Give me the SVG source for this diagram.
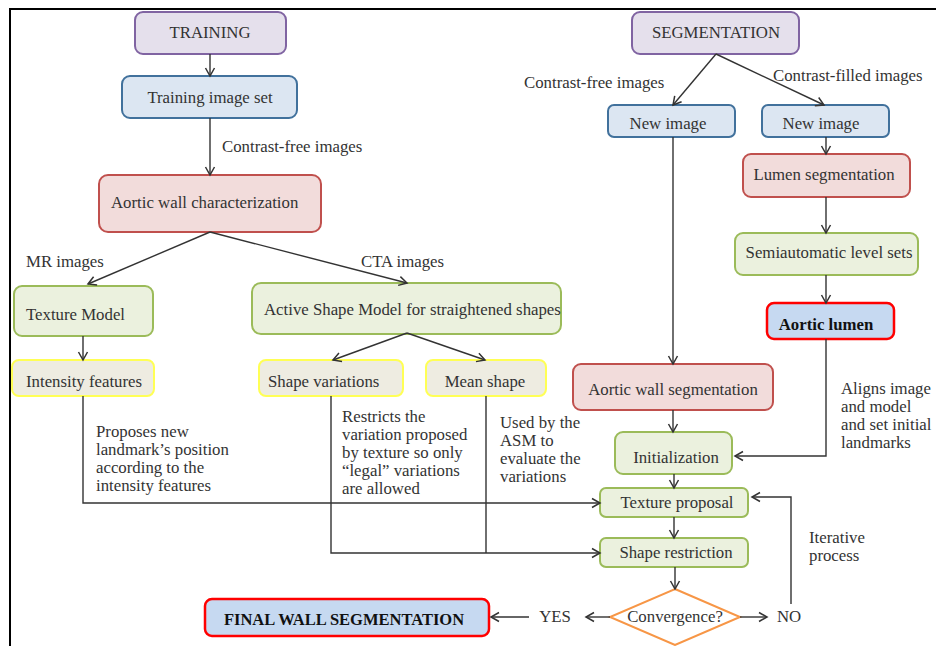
<svg xmlns="http://www.w3.org/2000/svg" width="936" height="646" viewBox="0 0 936 646">
<defs>
<marker id="arr" markerUnits="userSpaceOnUse" markerWidth="12" markerHeight="12" viewBox="0 0 12 12" refX="10" refY="6" orient="auto">
<path d="M2,1.5 L10,6 L2,10.5" fill="none" stroke="#333" stroke-width="1.5"/>
</marker>
<style>
text{font-family:"Liberation Serif","Times New Roman",serif;font-size:16.8px;fill:#333}
.c{text-anchor:middle}
.b{font-weight:bold;fill:#111}
rect{stroke-width:2}
.pu{fill:#E5E0EC;stroke:#8064A2}
.bl{fill:#DCE6F2;stroke:#41719C}
.rd{fill:#F2DCDB;stroke:#C0504D}
.gr{fill:#EBF1DE;stroke:#9BBB59}
.ye{fill:#EEECE1;stroke:#FFFF55}
.fr{fill:#C6D9F1;stroke:#FF0000;stroke-width:2.5}
.cn path,.cn line,.cn polyline{fill:none;stroke:#333;stroke-width:1.4}
.a{marker-end:url(#arr)}
</style>
</defs>
<rect x="10" y="9" width="950" height="660" fill="none" stroke="#000" stroke-width="2"/>

<g id="training"><rect class="pu" x="135" y="12" width="151" height="42" rx="8"/><text class="c" x="210" y="38">TRAINING</text></g>
<g id="training-set"><rect class="bl" x="122" y="76" width="175" height="42" rx="8"/><text class="c" x="210" y="103">Training image set</text></g>
<g id="awc"><rect class="rd" x="99" y="175" width="222" height="57" rx="9"/><text x="111" y="208">Aortic wall characterization</text></g>
<g id="texture-model"><rect class="gr" x="14" y="286" width="139" height="50" rx="8"/><text x="26" y="320">Texture Model</text></g>
<g id="asm"><rect class="gr" x="252" y="283" width="309" height="51" rx="9"/><text x="264" y="315">Active Shape Model for straightened shapes</text></g>
<g id="intensity"><rect class="ye" x="12" y="360" width="142" height="36" rx="7"/><text x="26" y="387">Intensity features</text></g>
<g id="shape-var"><rect class="ye" x="259" y="360" width="144" height="36" rx="7"/><text x="268" y="387">Shape variations</text></g>
<g id="mean-shape"><rect class="ye" x="426" y="360" width="120" height="36" rx="7"/><text class="c" x="485" y="387">Mean shape</text></g>

<g id="segmentation"><rect class="pu" x="632" y="12" width="167" height="42" rx="8"/><text class="c" x="716" y="38">SEGMENTATION</text></g>
<g id="new-image-1"><rect class="bl" x="608" y="105" width="127" height="32" rx="6"/><text class="c" x="668" y="129">New image</text></g>
<g id="new-image-2"><rect class="bl" x="762" y="105" width="127" height="32" rx="6"/><text class="c" x="821" y="129">New image</text></g>
<g id="lumen-seg"><rect class="rd" x="743" y="154" width="167" height="43" rx="8"/><text class="c" x="824" y="180">Lumen segmentation</text></g>
<g id="semi"><rect class="gr" x="735" y="233" width="183" height="42" rx="8"/><text class="c" x="829" y="258">Semiautomatic level sets</text></g>
<g id="aortic-lumen"><rect class="fr" x="767" y="303" width="127" height="36" rx="7"/><text class="c b" x="826" y="330">Aortic lumen</text></g>
<g id="aws"><rect class="rd" x="573" y="364" width="200" height="46" rx="8"/><text class="c" x="673" y="395">Aortic wall segmentation</text></g>
<g id="init"><rect class="gr" x="615" y="432" width="117" height="42" rx="8"/><text class="c" x="676" y="463">Initialization</text></g>
<g id="texture-proposal"><rect class="gr" x="600" y="488" width="148" height="29" rx="6"/><text class="c" x="677" y="508">Texture proposal</text></g>
<g id="shape-restriction"><rect class="gr" x="600" y="538" width="148" height="29" rx="6"/><text class="c" x="676" y="558">Shape restriction</text></g>
<g id="convergence"><path d="M675,589 L740,617 L675,645 L610,617 Z" fill="#fff" stroke="#F79646" stroke-width="2"/><text class="c" x="675" y="622">Convergence?</text></g>
<g id="final"><rect class="fr" x="205" y="599" width="284" height="37" rx="7"/><text class="c b" x="344" y="625" style="font-size:16.5px">FINAL WALL SEGMENTATION</text></g>

<g id="connectors" class="cn">
<line class="a" x1="210" y1="54" x2="210" y2="76"/>
<line class="a" x1="210" y1="118" x2="210" y2="175"/>
<line class="a" x1="210" y1="232" x2="88" y2="284"/>
<line class="a" x1="210" y1="232" x2="407" y2="283"/>
<line class="a" x1="83" y1="336" x2="83" y2="360"/>
<line class="a" x1="407" y1="333" x2="333" y2="360"/>
<line class="a" x1="407" y1="333" x2="485" y2="360"/>
<polyline class="a" points="83,396 83,503 600,503"/>
<polyline class="a" points="331,396 331,553 600,553"/>
<line x1="486" y1="396" x2="486" y2="553"/>
<line class="a" x1="716" y1="54" x2="673" y2="105"/>
<line class="a" x1="716" y1="54" x2="824" y2="105"/>
<line class="a" x1="826" y1="137" x2="826" y2="154"/>
<line class="a" x1="826" y1="197" x2="826" y2="233"/>
<line class="a" x1="826" y1="275" x2="826" y2="303"/>
<line class="a" x1="673" y1="137" x2="673" y2="364"/>
<line class="a" x1="673" y1="410" x2="673" y2="432"/>
<polyline class="a" points="826,339 826,456 735,456"/>
<line class="a" x1="674" y1="474" x2="674" y2="488"/>
<line class="a" x1="674" y1="517" x2="674" y2="538"/>
<line class="a" x1="675" y1="567" x2="675" y2="589"/>
<line class="a" x1="740" y1="617" x2="767" y2="617"/>
<polyline class="a" points="791,604 791,497 752,497"/>
<line class="a" x1="610" y1="617" x2="586" y2="617"/>
<line class="a" x1="529" y1="617" x2="491" y2="617"/>
</g>

<g id="labels">
<text x="222" y="152">Contrast-free images</text>
<text x="26" y="267">MR images</text>
<text x="361" y="267">CTA images</text>
<text x="524" y="88">Contrast-free images</text>
<text x="773" y="81">Contrast-filled images</text>
<text x="96" y="437">Proposes new</text>
<text x="96" y="455">landmark’s position</text>
<text x="96" y="473">according to the</text>
<text x="96" y="491">intensity features</text>
<text x="342" y="422">Restricts the</text>
<text x="342" y="440">variation proposed</text>
<text x="342" y="458">by texture so only</text>
<text x="342" y="476">“legal” variations</text>
<text x="342" y="494">are allowed</text>
<text x="500" y="428">Used by the</text>
<text x="500" y="446">ASM to</text>
<text x="500" y="464">evaluate the</text>
<text x="500" y="482">variations</text>
<text x="841" y="394">Aligns image</text>
<text x="841" y="412">and model</text>
<text x="841" y="430">and set initial</text>
<text x="841" y="448">landmarks</text>
<text x="809" y="543">Iterative</text>
<text x="809" y="561">process</text>
<text class="c" x="555" y="622">YES</text>
<text class="c" x="789" y="622">NO</text>
</g>
</svg>
